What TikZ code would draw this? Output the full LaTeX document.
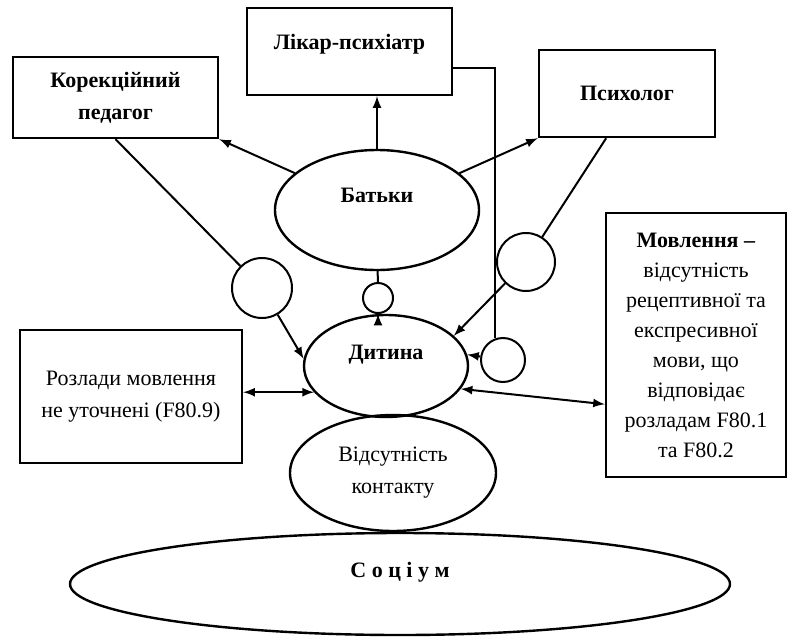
\documentclass[tikz,border=0pt]{standalone}
\usepackage{fontspec}
\setmainfont{Liberation Serif}
\usetikzlibrary{shapes.geometric, arrows, positioning}

\newcommand{\basefont}{\fontsize{11}{16}\selectfont}

\begin{document}
\begin{tikzpicture}[
						x=0.5pt, y=-0.5pt,
						>=latex, line width=1pt,
						plain/.style = {font=\basefont},
						heavy/.style = {font=\basefont\bfseries},
						square/.style = {draw, rectangle, line width=1.2pt, align=center, inner sep=0pt},
						oval/.style = {draw, ellipse, line width=1.2pt, align=center, inner sep=0pt},
						ring/.style = {draw, circle, inner sep=0pt}
					]
\useasboundingbox (0,0) rectangle (787,637);

\node[square, heavy, minimum width=102.5pt, minimum height=40.5pt] (kor) at (115.5,97.5) {Корекційний\\педагог};
\node[square, heavy, minimum width=102.5pt, minimum height=43.5pt, text height=7.5pt, text depth=9.5pt] (lik) at (349.5,51.5) {Лікар-психіатр};
\node[square, heavy, minimum width=88pt, minimum height=43.5pt] (psy) at (627,93.5) {Психолог};
\node[oval, heavy, minimum width=102pt, minimum height=60pt, text height=7.5pt, text depth=15pt] (bat) at (377,210) {Батьки};
\node[oval, heavy, minimum width=82pt, minimum height=51pt, text height=7.5pt, text depth=14pt] (dyt) at (386,366) {Дитина};
\node[oval, plain, minimum width=103pt, minimum height=58pt] (vid) at (393,473) {Відсутність\\контакту};
\node[oval, heavy, minimum width=330pt, minimum height=51pt, text height=7.5pt, text depth=14pt] (soc) at (400,584) {С о ц і у м};
\node[square, plain, minimum width=111pt, minimum height=66.5pt] (roz) at (131,396.5) {Розлади мовлення\\не уточнені (F80.9)};
\node[square, font=\fontsize{11}{15}\selectfont, minimum width=90pt, minimum height=132pt] (mov) at (696,345) {\textbf{Мовлення –}\\відсутність\\рецептивної та\\експресивної\\мови, що\\відповідає\\розладам F80.1\\та F80.2};

\node[ring, minimum size=30pt] (lc) at (262,288) {};
\node[ring, minimum size=15pt] (sc) at (378,298) {};
\node[ring, minimum size=29pt] (pc) at (526,262) {};
\node[ring, minimum size=22pt] (rc) at (503,360) {};

\draw[->] (bat.north) -- (bat.north |- lik.south);
\draw[->] (bat) -- (kor.south east);
\draw[->] (bat) -- (psy.south west);
\draw (bat) -- (sc);
\draw[->] (sc) -- (sc |- dyt.north);
\draw (kor.south) -- (lc);
\draw[->] (lc) -- (dyt.175);
\draw (psy.-115) -- (pc);
\draw[->] (pc) -- (dyt.24);
\draw (lik.-9) -| (rc.110);
\draw[->] (rc) -- (dyt.8);
\draw[<->] (roz.east |- dyt.200) -- (dyt.200);
\draw[<->] (dyt.-17) -- (mov.213);
\end{tikzpicture}
\end{document}
